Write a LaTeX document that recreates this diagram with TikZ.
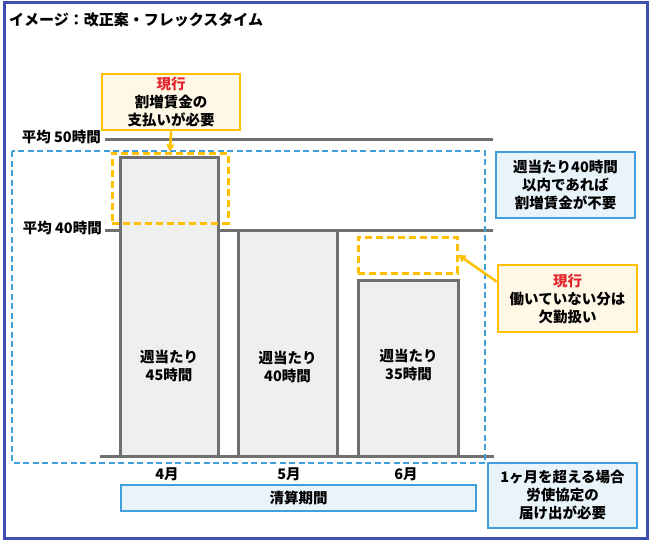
\documentclass[tikz,border=0pt]{standalone}
\usepackage{fontspec}
\setmainfont{Noto Sans CJK JP}
\usetikzlibrary{arrows.meta,calc}
\definecolor{frameblue}{HTML}{3F4FAF}
\definecolor{gline}{HTML}{707070}
\definecolor{barfill}{HTML}{EFEFEF}
\definecolor{skyblue}{HTML}{41A0DC}
\definecolor{lightblue}{HTML}{E8F3FA}
\definecolor{gold}{HTML}{FFC000}
\definecolor{cream}{HTML}{FFF8E6}
\definecolor{redtxt}{HTML}{E3262E}
\tikzset{
  txt/.style={font=\fontsize{14.5}{18}\selectfont\bfseries, align=center, inner sep=0pt, text=black},
  barbox/.style={draw=gline, fill=barfill, line width=3pt, inner sep=0pt},
  gridline/.style={draw=gline, line width=3pt},
  goldbox/.style={txt, draw=gold, fill=cream, line width=2.8pt, inner sep=0pt},
  bluebox/.style={txt, draw=skyblue, fill=lightblue, line width=2.8pt, inner sep=0pt},
  golddash/.style={draw=gold, line width=3pt, dash pattern=on 7pt off 4pt, inner sep=0pt},
  goldarrow/.style={draw=gold, line width=2.5pt, -{Triangle[length=7pt,width=8pt]}},
}
\begin{document}
\begin{tikzpicture}[x=1pt,y=-1pt]
\useasboundingbox (0,0) rectangle (652,541);
% outer frame
\draw[frameblue, line width=3pt] (4,2.5) rectangle (647,538.5);
% title
\node[txt, anchor=west, font=\fontsize{15}{18}\selectfont\bfseries] (title) at (9,20) {イメージ：改正案・フレックスタイム};

% reference lines
\coordinate (l50a) at (105,139); \coordinate (l50b) at (493,139);
\coordinate (l40a) at (105,230); \coordinate (l40b) at (493,230);
\coordinate (l0a) at (100,456);  \coordinate (l0b) at (494,456);
\draw[gridline] (l50a) -- (l50b);
\draw[gridline] (l40a) -- (l40b);
\node[txt, anchor=east] (ax50) at (101,137) {平均 50時間};
\node[txt, anchor=east] (ax40) at (102,228) {平均 40時間};

% bars
\node[barbox, minimum width=98pt, minimum height=299pt] (b1) at (169,306.5) {};
\node[barbox, minimum width=99pt, minimum height=226pt] (b2) at (287.5,343) {};
\node[barbox, minimum width=100pt, minimum height=176pt] (b3) at (408.5,368) {};
\draw[gridline] (l0a) -- (l0b);
\node[txt] (t1) at (169,366) {週当たり\\45時間};
\node[txt] (t2) at (287.5,367) {週当たり\\40時間};
\node[txt] (t3) at (408.5,365) {週当たり\\35時間};

% dashed period frame
\draw[skyblue, line width=2.5pt, dash pattern=on 6pt off 3.5pt] (12,151) rectangle (485,463);

% gold dashed boxes
\node[golddash, minimum width=116pt, minimum height=70pt] (d1) at (170,188) {};
\node[golddash, minimum width=99pt, minimum height=36pt] (d2) at (407.5,255) {};

% callouts
\node[goldbox, minimum width=138pt, minimum height=56pt] (c1) at (171,102) {\textcolor{redtxt}{現行}\\割増賃金の\\支払いが必要};
\node[goldbox, minimum width=139pt, minimum height=67pt] (c2) at (567.5,298.5) {\textcolor{redtxt}{現行}\\働いていない分は\\欠勤扱い};
\coordinate (c2a) at ($(c2.north west)+(0,18)$);
\draw[goldarrow] (c1.south) -- (d1.north);
\draw[goldarrow] (c2a) -- (d2.east);

% blue notes
\node[bluebox, minimum width=139pt, minimum height=66pt] (n1) at (565.5,185) {週当たり40時間\\以内であれば\\割増賃金が不要};
\node[bluebox, minimum width=149pt, minimum height=65pt] (n2) at (562.5,495.5) {1ヶ月を超える場合\\労使協定の\\届け出が必要};

% months
\node[txt] (m4) at (167,474) {4月};
\node[txt] (m5) at (289,474) {5月};
\node[txt] (m6) at (406,474) {6月};

% settlement period
\node[bluebox, minimum width=355pt, minimum height=26pt] (period) at (298.5,498) {清算期間};
\end{tikzpicture}
\end{document}
